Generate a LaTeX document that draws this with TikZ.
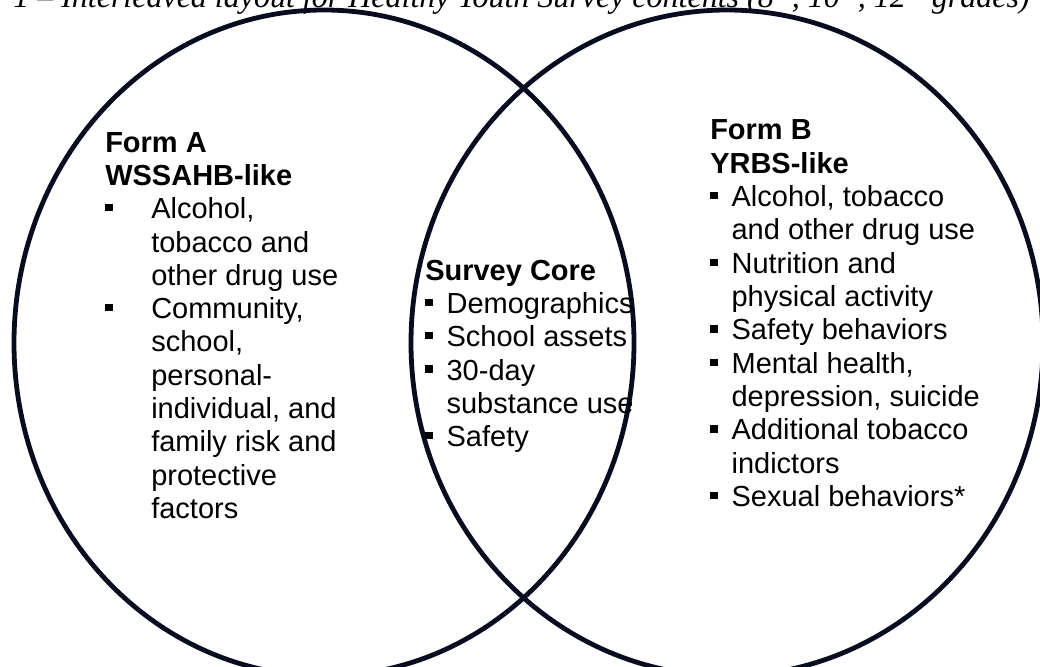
\documentclass[tikz,border=0pt]{standalone}
\usepackage{fontspec}
\setmainfont{Liberation Serif}
\setsansfont{Liberation Sans}
\definecolor{ringnavy}{RGB}{8,12,30}
% small square list marker
\newcommand{\sqmark}{\rule[5.5pt]{5.5pt}{5.5pt}}
\newcommand{\mk}[1]{\makebox[#1][l]{\sqmark}}

\begin{document}
\begin{tikzpicture}[x=0.75pt,y=-0.75pt,
  ring/.style={draw=ringnavy,line width=3.6pt},
  listblock/.style={anchor=base west,inner sep=0pt,
    font=\sffamily\fontsize{21.75}{25}\selectfont},
  caption/.style={anchor=base west,inner sep=0pt,
    font=\itshape\fontsize{24}{28}\selectfont}]
\useasboundingbox (0,0) rectangle (1040,667);
\node[caption] (title) at (13,8)
  {1 -- Interleaved layout for Healthy Youth Survey contents (8\textsuperscript{th}, 10\textsuperscript{th}, 12\textsuperscript{th} grades)};
% the two overlapping forms
\draw[ring] (324,343) ellipse [x radius=232.5pt,y radius=249.75pt];
\draw[ring] (727,343) ellipse [x radius=237pt,y radius=249.75pt];
\node[listblock] (formA) at (105,152) {\begin{tabular}[t]{@{}l@{}l@{}}
  \multicolumn{2}{@{}l@{}}{\bfseries Form A}\\
  \multicolumn{2}{@{}l@{}}{\bfseries WSSAHB-like}\\
  \mk{34.5pt} & Alcohol,\\
  & tobacco and\\
  & other drug use\\
  \mk{34.5pt} & Community,\\
  & school,\\
  & personal-\\
  & individual, and\\
  & family risk and\\
  & protective\\
  & factors
\end{tabular}};
\node[listblock] (core) at (425,280) {\begin{tabular}[t]{@{}l@{}l@{}}
  \multicolumn{2}{@{}l@{}}{\bfseries Survey Core}\\
  \mk{16pt} & Demographics\\
  \mk{16pt} & School assets\\
  \mk{16pt} & 30-day\\
  & substance use\\
  \mk{16pt} & Safety
\end{tabular}};
\node[listblock] (formB) at (710,140) {\begin{tabular}[t]{@{}l@{}l@{}}
  \multicolumn{2}{@{}l@{}}{\bfseries Form B}\\
  \multicolumn{2}{@{}l@{}}{\bfseries YRBS-like}\\
  \mk{16pt} & Alcohol, tobacco\\
  & and other drug use\\
  \mk{16pt} & Nutrition and\\
  & physical activity\\
  \mk{16pt} & Safety behaviors\\
  \mk{16pt} & Mental health,\\
  & depression, suicide\\
  \mk{16pt} & Additional tobacco\\
  & indictors\\
  \mk{16pt} & Sexual behaviors*
\end{tabular}};
\end{tikzpicture}
\end{document}
